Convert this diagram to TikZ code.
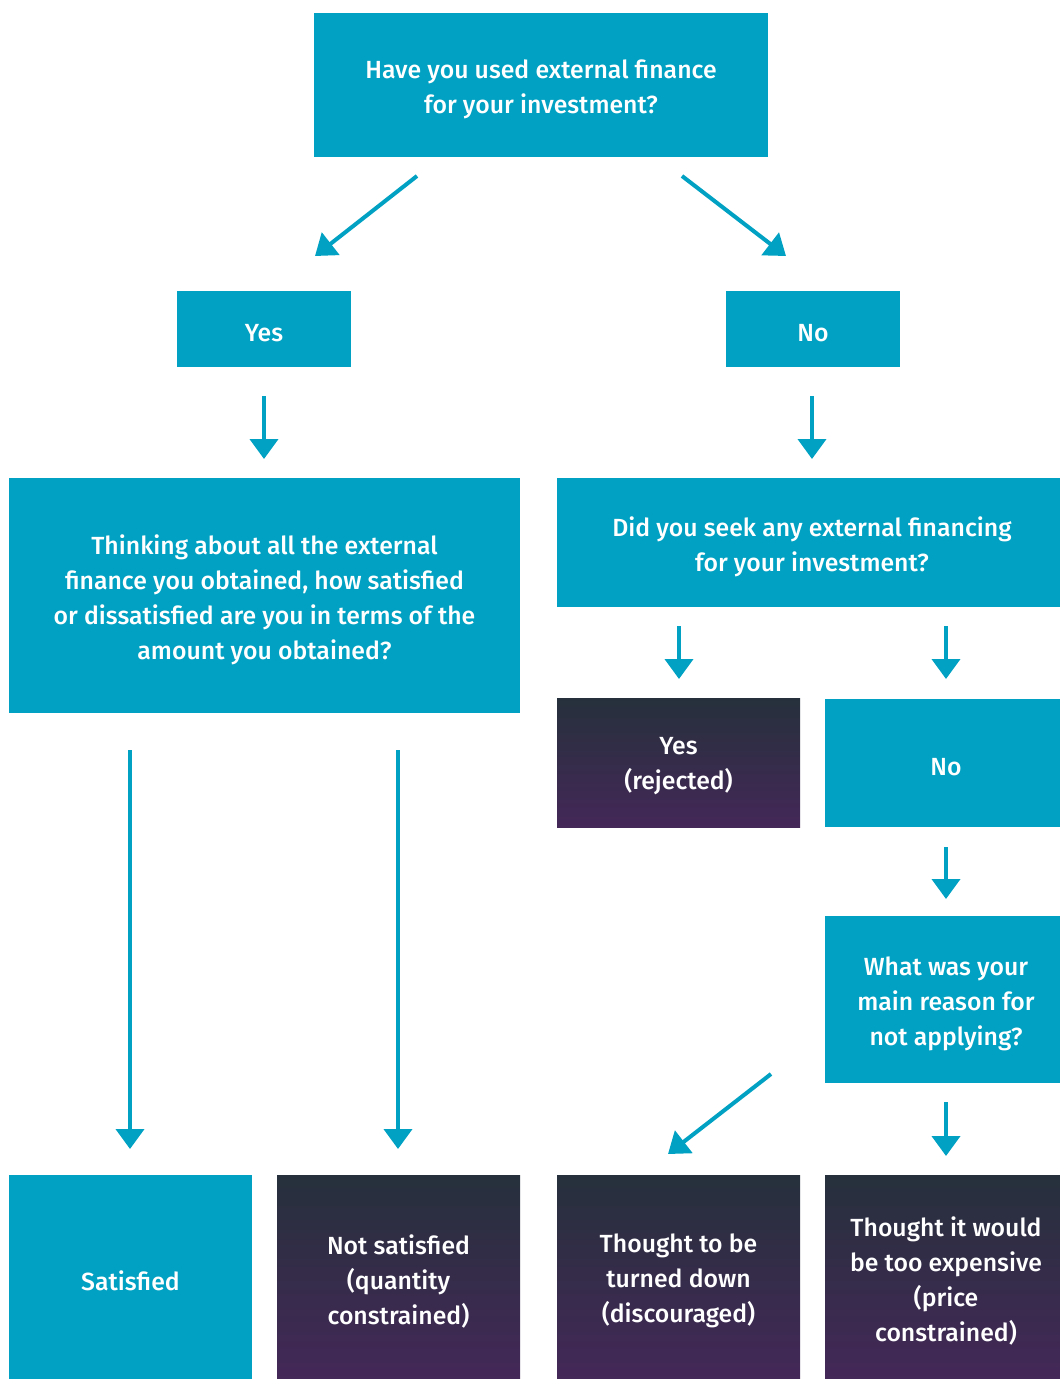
\documentclass[tikz,border=0pt]{standalone}
\usepackage{fontspec}
\IfFontExistsTF{Fira Sans Medium}{\setmainfont{Fira Sans Medium}}{\setmainfont{Fira Sans}[FakeBold=0.6]}
\usetikzlibrary{arrows.meta}
\definecolor{teal}{RGB}{0,161,194}
\definecolor{darktop}{RGB}{38,48,60}
\definecolor{darkbot}{RGB}{68,40,88}
\tikzset{
  txt/.style={text=white, align=center, inner sep=0pt, font=\fontsize{24.8}{35}\selectfont},
  box/.style={fill=teal, inner sep=0pt},
  darkbox/.style={top color=darktop, bottom color=darkbot, draw=none, inner sep=0pt},
  lbl/.style={label={[txt, yshift=-4pt]center:{#1}}},
  arr/.style={draw=teal, line width=4pt, -{Triangle[width=28pt,length=20pt]}},
}
\begin{document}
\begin{tikzpicture}[x=1pt,y=-1pt]
\useasboundingbox (0,0) rectangle (1060,1379);
\node[box, minimum width=454, minimum height=144, lbl={Have you used external finance\\for your investment?}] (q1) at (541,85) {};
\node[box, minimum width=174, minimum height=76, lbl={Yes}] (yes) at (264,329) {};
\node[box, minimum width=174, minimum height=76, lbl={No}] (no) at (813,329) {};
\node[box, minimum width=511, minimum height=235, lbl={Thinking about all the external\\finance you obtained, how satisfied\\or dissatisfied are you in terms of the\\amount you obtained?}] (q2) at (264.5,595.5) {};
\node[box, minimum width=510, minimum height=129, lbl={Did you seek any external financing\\for your investment?}] (q3) at (812,542.5) {};
\node[darkbox, minimum width=243, minimum height=129, lbl={Yes\\(rejected)}] (rej) at (678.5,762.5) {};
\node[box, minimum width=242, minimum height=128, lbl={No}] (no2) at (946,763) {};
\node[box, minimum width=242, minimum height=167, lbl={What was your\\main reason for\\not applying?}] (q4) at (946,999.5) {};
\node[box, minimum width=243, minimum height=204, lbl={Satisfied}] (sat) at (130.5,1277) {};
\node[darkbox, minimum width=243, minimum height=204, lbl={Not satisfied\\(quantity\\constrained)}] (qc) at (398.5,1277) {};
\node[darkbox, minimum width=243, minimum height=204, lbl={Thought to be\\turned down\\(discouraged)}] (disc) at (678.5,1277) {};
\node[darkbox, minimum width=242, minimum height=204, lbl={Thought it would\\be too expensive\\(price\\constrained)}] (pc) at (946,1277) {};
% free arrow ends
\coordinate (a1s) at (417,176); \coordinate (a1e) at (315,256);
\coordinate (a2s) at (682,176); \coordinate (a2e) at (786,256);
\coordinate (a3s) at (264,396); \coordinate (a3e) at (264,459);
\coordinate (a4s) at (812,396); \coordinate (a4e) at (812,459);
\coordinate (a5s) at (679,626); \coordinate (a5e) at (679,679);
\coordinate (a6s) at (946,626); \coordinate (a6e) at (946,679);
\coordinate (a7s) at (946,847); \coordinate (a7e) at (946,899);
\coordinate (a8s) at (130,750); \coordinate (a8e) at (130,1149);
\coordinate (a9s) at (398,750); \coordinate (a9e) at (398,1149);
\coordinate (a10s) at (771,1074); \coordinate (a10e) at (668,1154);
\coordinate (a11s) at (946,1102); \coordinate (a11e) at (946,1156);
\draw[arr] (a1s) -- (a1e);
\draw[arr] (a2s) -- (a2e);
\draw[arr] (a3s) -- (a3e);
\draw[arr] (a4s) -- (a4e);
\draw[arr] (a5s) -- (a5e);
\draw[arr] (a6s) -- (a6e);
\draw[arr] (a7s) -- (a7e);
\draw[arr] (a8s) -- (a8e);
\draw[arr] (a9s) -- (a9e);
\draw[arr] (a10s) -- (a10e);
\draw[arr] (a11s) -- (a11e);
\end{tikzpicture}
\end{document}
